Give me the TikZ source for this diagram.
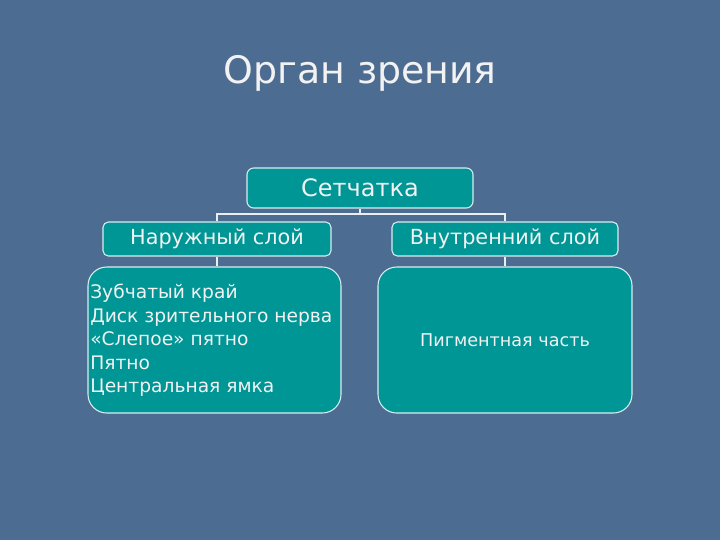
\documentclass[tikz,border=0pt]{standalone}
\usepackage{fontspec}
\setmainfont{DejaVu Sans}
\definecolor{bgc}{HTML}{4D6C91}
\definecolor{teal1}{HTML}{009696}
\definecolor{edgec}{HTML}{D8EEF0}
\definecolor{txt}{HTML}{F2F2F2}
\definecolor{linec}{HTML}{E8EEF2}
\begin{document}
\begin{tikzpicture}[x=0.75pt,y=-0.75pt,
  box/.style={draw=edgec,line width=0.8pt,fill=teal1,text=txt,inner sep=0pt},
  conn/.style={draw=linec,line width=0.8pt}]
\fill[bgc] (0,0) rectangle (720,540);
\useasboundingbox (0,0) rectangle (720,540);
\node[text=txt,font=\fontsize{28.4}{34}\selectfont] (title) at (360,73) {Орган зрения};
\node[box,rounded corners=5pt,minimum width=226*0.75pt,minimum height=40*0.75pt,font=\fontsize{18}{21}\selectfont] (ret) at (360,188) {Сетчатка};
\node[box,rounded corners=4pt,minimum width=228*0.75pt,minimum height=34*0.75pt,font=\fontsize{15.6}{18}\selectfont] (outer) at (217,239) {Наружный слой};
\node[box,rounded corners=4pt,minimum width=226*0.75pt,minimum height=34*0.75pt,font=\fontsize{15.6}{18}\selectfont] (inner) at (505,239) {Внутренний слой};
\node[box,rounded corners=14pt,minimum width=253*0.75pt,minimum height=146*0.75pt] (lbox) at (214.5,340) {};
\node[text=txt,anchor=north west,align=left,font=\fontsize{14}{17.6}\selectfont,inner sep=0pt] (ltext) at (90,284) {Зубчатый край\\Диск зрительного нерва\\«Слепое» пятно\\Пятно\\Центральная ямка};
\node[box,rounded corners=14pt,minimum width=254*0.75pt,minimum height=146*0.75pt,font=\fontsize{13.2}{16}\selectfont] (rbox) at (505,340) {Пигментная часть};
\coordinate (j) at (360,214);
\draw[conn] (ret.south) -- (j);
\draw[conn] (j) -| (outer.north);
\draw[conn] (j) -| (inner.north);
\draw[conn] (outer.south) -- (outer.south |- lbox.north);
\draw[conn] (inner.south) -- (rbox.north);
\end{tikzpicture}
\end{document}
